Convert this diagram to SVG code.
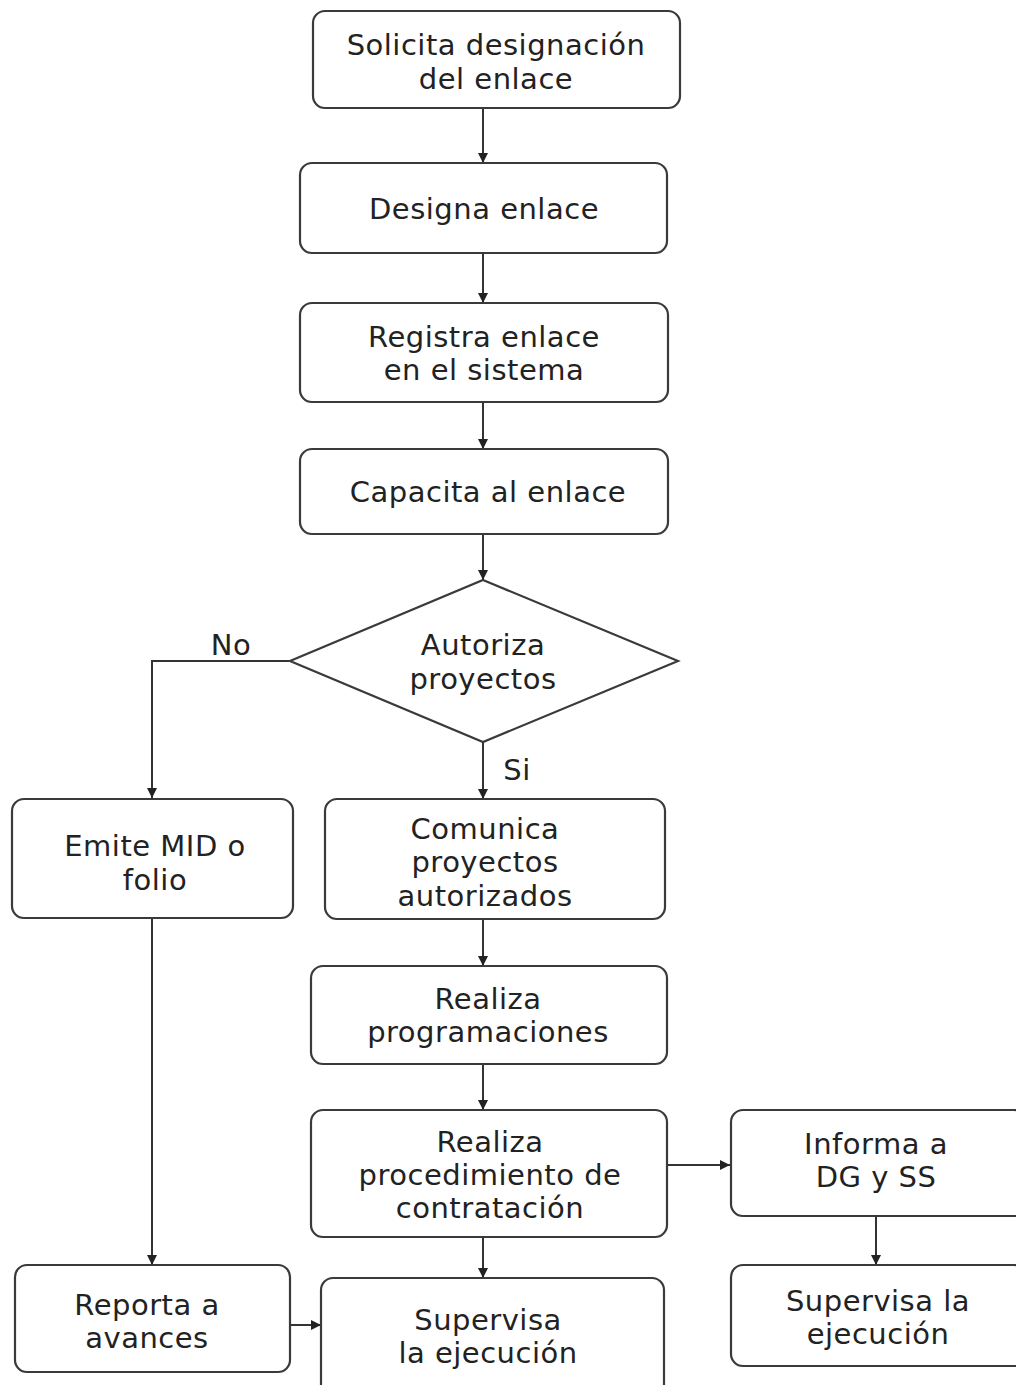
<svg xmlns="http://www.w3.org/2000/svg" width="1016" height="1385" viewBox="0 0 1016 1385">
<style>
.n{fill:#fff;stroke:#3a3a3a;stroke-width:2.2}
.t{font-family:"DejaVu Sans",sans-serif;font-size:29px;fill:#222;text-anchor:middle;dominant-baseline:central;letter-spacing:0.5px}
.c{fill:none;stroke:#333;stroke-width:2}
</style>
<defs>
<marker id="ah" viewBox="0 0 10 10" refX="10" refY="5" markerWidth="10" markerHeight="11" markerUnits="userSpaceOnUse" orient="auto">
<path d="M0,0 L10,5 L0,10 z" fill="#222"/>
</marker>
</defs>
<rect width="1016" height="1385" fill="#fff"/>
<g id="connectors">
<path class="c" marker-end="url(#ah)" d="M483,108 V163"/>
<path class="c" marker-end="url(#ah)" d="M483,253 V303"/>
<path class="c" marker-end="url(#ah)" d="M483,402 V449"/>
<path class="c" marker-end="url(#ah)" d="M483,534 V580"/>
<path class="c" marker-end="url(#ah)" d="M290,661 H152 V798"/>
<path class="c" marker-end="url(#ah)" d="M483,742 V799"/>
<path class="c" marker-end="url(#ah)" d="M483,919 V966"/>
<path class="c" marker-end="url(#ah)" d="M483,1064 V1110"/>
<path class="c" marker-end="url(#ah)" d="M667,1165 H730"/>
<path class="c" marker-end="url(#ah)" d="M876,1216 V1265"/>
<path class="c" marker-end="url(#ah)" d="M483,1237 V1278"/>
<path class="c" marker-end="url(#ah)" d="M152,918 V1265"/>
<path class="c" marker-end="url(#ah)" d="M290,1325 H321"/>
<text class="t" x="231" y="645">No</text>
<text class="t" x="517" y="770">Si</text>
</g>
<g id="n1"><rect class="n" x="313" y="11" width="367" height="97" rx="12"/><text class="t" x="496" y="45">Solicita designación</text><text class="t" x="496" y="79">del enlace</text></g>
<g id="n2"><rect class="n" x="300" y="163" width="367" height="90" rx="12"/><text class="t" x="484" y="209">Designa enlace</text></g>
<g id="n3"><rect class="n" x="300" y="303" width="368" height="99" rx="12"/><text class="t" x="484" y="337">Registra enlace</text><text class="t" x="484" y="370">en el sistema</text></g>
<g id="n4"><rect class="n" x="300" y="449" width="368" height="85" rx="12"/><text class="t" x="488" y="492">Capacita al enlace</text></g>
<g id="n5"><path class="n" d="M483,580 L678,661 L483,742 L290,661 Z"/><text class="t" x="483" y="645">Autoriza</text><text class="t" x="483" y="679">proyectos</text></g>
<g id="n6"><rect class="n" x="12" y="799" width="281" height="119" rx="12"/><text class="t" x="155" y="846">Emite MID o</text><text class="t" x="155" y="880">folio</text></g>
<g id="n7"><rect class="n" x="325" y="799" width="340" height="120" rx="12"/><text class="t" x="485" y="829">Comunica</text><text class="t" x="485" y="862">proyectos</text><text class="t" x="485" y="896">autorizados</text></g>
<g id="n8"><rect class="n" x="311" y="966" width="356" height="98" rx="12"/><text class="t" x="488" y="999">Realiza</text><text class="t" x="488" y="1032">programaciones</text></g>
<g id="n9"><rect class="n" x="311" y="1110" width="356" height="127" rx="12"/><text class="t" x="490" y="1142">Realiza</text><text class="t" x="490" y="1175">procedimiento de</text><text class="t" x="490" y="1208">contratación</text></g>
<g id="n10"><rect class="n" x="731" y="1110" width="295" height="106" rx="12"/><text class="t" x="876" y="1144">Informa a</text><text class="t" x="876" y="1177">DG y SS</text></g>
<g id="n11"><rect class="n" x="731" y="1265" width="295" height="101" rx="12"/><text class="t" x="878" y="1301">Supervisa la</text><text class="t" x="878" y="1334">ejecución</text></g>
<g id="n12"><rect class="n" x="15" y="1265" width="275" height="107" rx="12"/><text class="t" x="147" y="1305">Reporta a</text><text class="t" x="147" y="1338">avances</text></g>
<g id="n13"><rect class="n" x="321" y="1278" width="343" height="120" rx="12"/><text class="t" x="488" y="1320">Supervisa</text><text class="t" x="488" y="1353">la ejecución</text></g>
</svg>
